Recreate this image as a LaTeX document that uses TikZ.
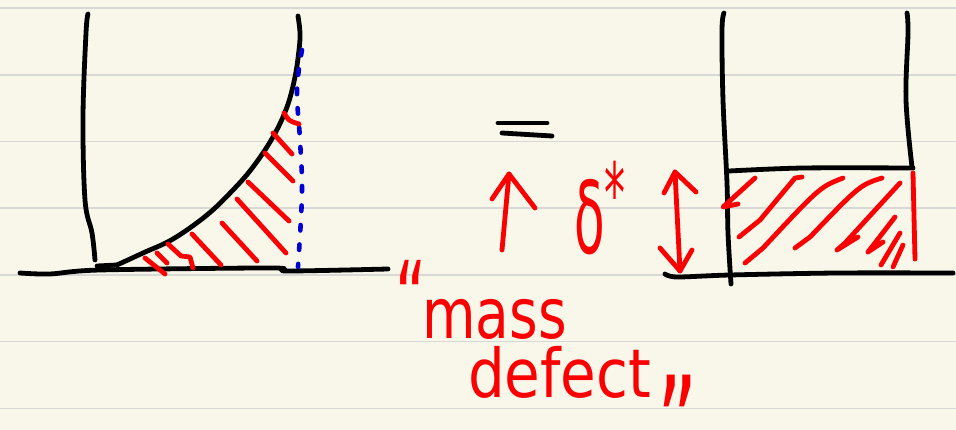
\documentclass[tikz,border=0pt]{standalone}
\usepackage{fontspec}
\setmainfont{DejaVu Sans}
\definecolor{paper}{RGB}{248,247,234}
\definecolor{rulegray}{RGB}{216,216,214}
\definecolor{pen}{RGB}{250,0,0}
\definecolor{bpen}{RGB}{0,0,210}
\tikzset{
  blk/.style={draw=black, line width=4.8pt, line cap=round, line join=round},
  redink/.style={draw=pen, line width=4.8pt, line cap=round, line join=round},
  bluedots/.style={draw=bpen, line width=4.6pt, line cap=round, dash pattern=on 5.5pt off 14pt},
  ruling/.style={draw=rulegray, line width=1.6pt},
  redtxt/.style={text=pen, inner sep=0pt, outer sep=0pt},
}
\begin{document}
\begin{tikzpicture}[x=1pt,y=-1pt]
\fill[paper] (0,0) rectangle (956,430);
\useasboundingbox (0,0) rectangle (956,430);
\foreach \yy in {8,75,141.7,208.3,275,341.7,408.3} \draw[ruling] (0,\yy) -- (956,\yy);

% ---------- left diagram ----------
\draw[blk] plot[smooth, tension=0.6] coordinates {(88,14) (86,33) (83,117) (85,200) (92,233) (95,260)};
\draw[blk] plot[smooth, tension=0.5] coordinates {(20,273) (50,274) (100,270) (273,268) (287,271) (388,269)};
\draw[blk] (97,266) -- (117,265);
\draw[blk] plot[smooth, tension=0.6] coordinates {(117,265) (143,253) (173,239) (207,215) (233,190) (253,167) (273,137) (287,107) (295,77) (299,50) (300,33) (298,16)};
\draw[bluedots] plot[smooth, tension=0.6] coordinates {(302,50) (297,90) (300,140) (302,193) (298,267)};

% red hatching left
\draw[redink] (284,113) .. controls (289,121) .. (299,124);
\draw[redink] (273,133) -- (292,154);
\draw[redink] (265,153) -- (293,181);
\draw[redink] (248,182) -- (289,221);
\draw[redink] (237,199) -- (286,253);
\draw[redink] (222,223) -- (257,261);
\draw[redink] (192,234) -- (221,265);
\draw[redink] (168,244) -- (181,256) -- (190,257) -- (193,268);
\draw[redink] (157,253) -- (167,263);
\draw[redink] (145,258) -- (165,274);

% equals sign
\draw[blk] (498,123) -- (547,123);
\draw[blk] (502,133) -- (552,136);

% red up arrow
\draw[redink] (502,250) -- (509,174);
\draw[redink] (492,199) -- (509,174) -- (535,208);

% delta star
\node[redtxt, anchor=base west] (delta) at (574,254) {\scalebox{0.5}[1]{\fontsize{100}{100}\selectfont δ\raisebox{0.3em}{\fontsize{84}{84}\selectfont *}}};

% double arrow
\draw[redink] (675,172) -- (680,271);
\draw[redink] (664,193) -- (675,172) -- (696,192);
\draw[redink] (660,248) -- (680,271) -- (692,250);

% ---------- right diagram ----------
\draw[blk] plot[smooth, tension=0.6] coordinates {(724,13) (722,30) (723,100) (727,183) (728,233) (731,284)};
\draw[blk] plot[smooth, tension=0.6] coordinates {(907,13) (908,33) (906,100) (912,167)};
\draw[blk] plot[smooth, tension=0.5] coordinates {(729,171) (803,168) (913,168)};
\draw[blk] plot[smooth, tension=0.5] coordinates {(665,274) (677,277) (730,275) (837,273) (953,273)};

% red hatching right
\draw[redink] (755,178) -- (723,207) -- (738,204);
\draw[redink] (802,177) -- (795,178) -- (760,220) -- (739,237);
\draw[redink] (843,178) .. controls (820,187) .. (763,248) -- (745,263);
\draw[redink] (882,178) .. controls (860,185) .. (810,237) -- (795,248);
\draw[redink] (900,183) -- (845,243) -- (837,250) -- (858,237);
\draw[redink] (895,217) -- (868,252) -- (883,242);
\draw[redink] (900,233) -- (881,265);
\draw[redink] (903,245) -- (893,267);
\draw[redink] (913,173) -- (915,259);

% ---------- text ----------
\node[redtxt, anchor=base west] (mass) at (395,338) {\fontsize{55}{55}\selectfont\raisebox{3pt}{\scalebox{1.09}[1.85]{“}}\hspace{-4pt}\scalebox{1}[1.27]{mass}};
\node[redtxt, anchor=base west] (defect) at (468,397) {\fontsize{58}{58}\selectfont\scalebox{1}[1.16]{defect}\hspace{6pt}\raisebox{5.5pt}{\scalebox{1.34}[2.28]{„}}};
\end{tikzpicture}
\end{document}
